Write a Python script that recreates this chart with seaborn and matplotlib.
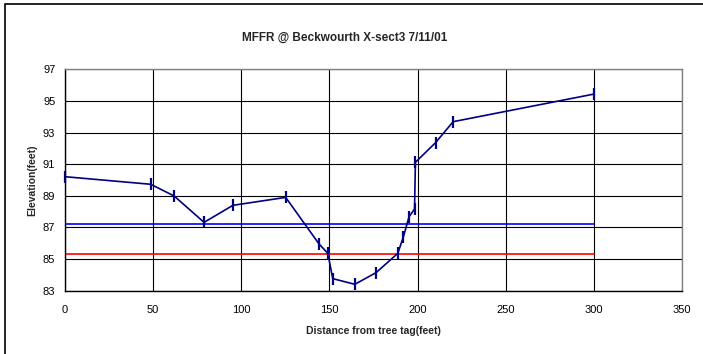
import matplotlib
matplotlib.use("Agg")
import matplotlib.pyplot as plt
import seaborn as sns
import pandas as pd
from matplotlib.patches import Rectangle

# survey points (distance from tree tag, elevation)
distance = [0, 48.6, 61.9, 78.9, 95.3, 125.2, 144.0, 149.1, 151.9, 164.4,
            176.5, 188.8, 192.0, 195.2, 198.3, 198.8, 210.2, 220.2, 300.2]
elevation = [90.21, 89.73, 88.99, 87.32, 88.40, 88.90, 85.97, 85.36, 83.76, 83.40,
             84.14, 85.36, 86.41, 87.68, 88.16, 91.12, 92.36, 93.69, 95.44]

# reference water levels
level_x = [0, 300]
blue_level = [87.2, 87.2]
red_level = [85.3, 85.3]

xticks = [0, 50, 100, 150, 200, 250, 300, 350]
yticks = [83, 85, 87, 89, 91, 93, 95, 97]

sns.set_style("white")
plt.rcParams['font.family'] = ['Liberation Sans', 'DejaVu Sans']

df = pd.DataFrame({"distance": distance, "elevation": elevation})

fig = plt.figure(figsize=(7.03, 3.54), dpi=100)
ax = fig.add_axes([0.0925, 0.179, 0.8775, 0.625])

sns.lineplot(x=level_x, y=blue_level, color="#0000FF", linewidth=1.2, ax=ax)
sns.lineplot(x=level_x, y=red_level, color="#FF0000", linewidth=1.2, ax=ax)
sns.lineplot(data=df, x="distance", y="elevation", color="#000080", linewidth=1.2,
             marker="|", markersize=8, markeredgewidth=1.6, markeredgecolor="#000080",
             sort=False, clip_on=False, ax=ax)

ax.set_xlim(0, 350)
ax.set_ylim(83, 97)
ax.set_xticks(xticks)
ax.set_yticks(yticks)
ax.grid(True, color="black", linewidth=0.8)
ax.set_axisbelow(True)
for s in ax.spines.values():
    s.set_color("#808080")
    s.set_linewidth(1.0)
ax.spines["left"].set_color("black")
ax.spines["bottom"].set_color("black")
ax.tick_params(axis="both", direction="out", length=4, width=0.8, colors="black",
               labelsize=8, pad=3)
ax.tick_params(axis="x", pad=6)

ax.set_xlabel("Distance from tree tag(feet)", fontsize=7.5, fontweight="bold", labelpad=8)
ax.set_ylabel("Elevation(feet)", fontsize=7.5, fontweight="bold", labelpad=4)
fig.suptitle("MFFR @ Beckwourth X-sect3 7/11/01", x=0.49, y=0.91, fontsize=8.5,
             fontweight="bold")

fig.patches.append(Rectangle((5 / 703, -0.1), 1.1, 1.1 - 4.5 / 354, transform=fig.transFigure,
                             fill=False, edgecolor="black", linewidth=1.2))

fig.savefig("out.png", dpi=100)
